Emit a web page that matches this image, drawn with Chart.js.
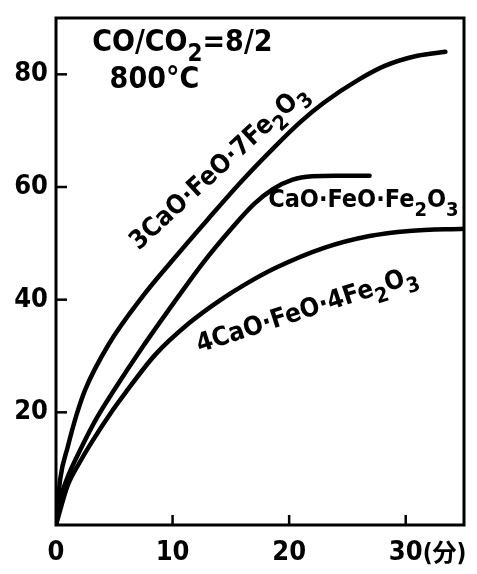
<!DOCTYPE html>
<html>
<head>
<meta charset="utf-8">
<script src="https://cdn.jsdelivr.net/npm/chart.js@4"></script>
<style>
  html, body { margin: 0; padding: 0; background: #fff; }
  #wrap { width: 477px; height: 574px; position: relative; }
</style>
</head>
<body>
<div id="wrap"><canvas id="reductionChart"></canvas></div>
<script>
// Reduction degree (%) vs time (min), CO/CO2 = 8/2, 800°C
const timeA = [0, 0.35, 1, 1.8, 2.5, 4.5, 7.4, 10, 13, 16, 18.7, 21, 23, 26, 28.2, 31, 33.4];
const valueA = [0, 8, 13.8, 19.8, 24, 32, 40.5, 47, 54.2, 61.2, 67, 71.6, 75, 79.1, 81.5, 83.3, 84];

const timeB = [0, 0.5, 1, 2, 3.5, 5, 7.4, 10.3, 12.6, 15, 17, 18.6, 20.3, 22, 24, 26.9];
const valueB = [0, 5.5, 8.5, 13, 19, 24, 31.5, 40, 46.5, 52.5, 57, 59.6, 61.3, 61.9, 62, 62];

const timeC = [0, 1, 2, 3, 4.8, 6, 8.5, 11.4, 14, 16.3, 18.9, 23, 26.9, 30.3, 35];
const valueC = [0, 7, 11, 14.5, 20.2, 23.6, 30.2, 35.8, 39.8, 42.8, 45.7, 49.2, 51.3, 52.2, 52.6];

const xTicks = [0, 10, 20, 30];
const yTicks = [20, 40, 60, 80];
const xMax = 35;
const yMax = 90;

const FONT = "'DejaVu Sans Condensed', 'DejaVu Sans', 'Noto Sans CJK JP', sans-serif";
const INK = '#000';

function toPoints(xs, ys) {
    return xs.map((x, i) => ({ x: x, y: ys[i] }));
}

function lineSet(xs, ys) {
    return {
        data: toPoints(xs, ys),
        borderColor: INK,
        borderWidth: 4.5,
        pointRadius: 0,
        fill: false,
        showLine: true,
        cubicInterpolationMode: 'monotone',
        borderCapStyle: 'round'
    };
}

/**
 * Draw text made of [string, isSubscript] parts, starting at 0,0
 */
function drawParts(ctx, parts, size) {
    let x = 0;
    parts.forEach(([str, sub]) => {
        ctx.font = 'bold ' + (sub ? Math.round(size * 0.8) : size) + 'px ' + FONT;
        ctx.fillText(str, x, sub ? size * 0.33 : 0);
        x += ctx.measureText(str).width;
    });
}

function drawLabel(ctx, parts, px, py, angle, size) {
    ctx.save();
    ctx.translate(px, py);
    ctx.rotate(angle * Math.PI / 180);
    ctx.textAlign = 'left';
    ctx.textBaseline = 'alphabetic';
    ctx.fillStyle = INK;
    drawParts(ctx, parts, size);
    ctx.restore();
}

const framePlugin = {
    id: 'frame',
    afterDatasetsDraw(chart) {
        const { ctx, chartArea: a, scales } = chart;
        const sx = scales.x, sy = scales.y;
        ctx.save();
        ctx.strokeStyle = INK;
        ctx.lineWidth = 3;
        ctx.strokeRect(a.left, a.top, a.right - a.left, a.bottom - a.top);

        // inward ticks
        ctx.lineWidth = 2.5;
        yTicks.forEach(v => {
            const y = sy.getPixelForValue(v);
            ctx.beginPath();
            ctx.moveTo(a.left, y);
            ctx.lineTo(a.left + 11, y);
            ctx.stroke();
        });
        xTicks.slice(1).forEach(v => {
            const x = sx.getPixelForValue(v);
            ctx.beginPath();
            ctx.moveTo(x, a.bottom);
            ctx.lineTo(x, a.bottom - 10);
            ctx.stroke();
        });

        // unit after the last x tick
        ctx.fillStyle = INK;
        ctx.font = 'bold 24px ' + FONT;
        ctx.textBaseline = 'alphabetic';
        ctx.textAlign = 'left';
        ctx.fillText('(分)', sx.getPixelForValue(30) + 17, a.bottom + 36);

        // condition text
        drawLabel(ctx, [['CO/CO', 0], ['2', 1], ['=8/2', 0]], sx.getPixelForValue(3.1), sy.getPixelForValue(84.1), 0, 30);
        drawLabel(ctx, [['800°C', 0]], sx.getPixelForValue(4.6), sy.getPixelForValue(77.5), 0, 30);

        // curve labels
        drawLabel(ctx, [['3CaO·FeO·7Fe', 0], ['2', 1], ['O', 0], ['3', 1]],
            sx.getPixelForValue(7.1), sy.getPixelForValue(48.7), -42.5, 26);
        drawLabel(ctx, [['CaO·FeO·Fe', 0], ['2', 1], ['O', 0], ['3', 1]],
            sx.getPixelForValue(18.2), sy.getPixelForValue(56.4), 0, 25);
        drawLabel(ctx, [['4CaO·FeO·4Fe', 0], ['2', 1], ['O', 0], ['3', 1]],
            sx.getPixelForValue(12.3), sy.getPixelForValue(30.6), -18, 26);
        ctx.restore();
    }
};

const chart = new Chart(document.getElementById('reductionChart'), {
    type: 'scatter',
    data: {
        datasets: [
            lineSet(timeA, valueA),
            lineSet(timeB, valueB),
            lineSet(timeC, valueC)
        ]
    },
    options: {
        responsive: true,
        maintainAspectRatio: false,
        animation: false,
        layout: { padding: { top: 18, right: 13, left: 0, bottom: 0 } },
        plugins: {
            legend: { display: false },
            tooltip: { enabled: false }
        },
        scales: {
            x: {
                type: 'linear',
                min: 0,
                max: xMax,
                afterBuildTicks: s => { s.ticks = xTicks.map(v => ({ value: v })); },
                afterFit: s => { s.height = 49; },
                grid: { display: false },
                border: { display: false },
                ticks: {
                    color: INK,
                    padding: 4,
                    font: { family: FONT, size: 27, weight: 'bold' }
                }
            },
            y: {
                min: 0,
                max: yMax,
                afterBuildTicks: s => { s.ticks = yTicks.map(v => ({ value: v })); },
                afterFit: s => { s.width = 56; },
                grid: { display: false },
                border: { display: false },
                ticks: {
                    color: INK,
                    padding: 0,
                    font: { family: FONT, size: 27, weight: 'bold' }
                }
            }
        }
    },
    plugins: [framePlugin]
});
</script>
</body>
</html>
